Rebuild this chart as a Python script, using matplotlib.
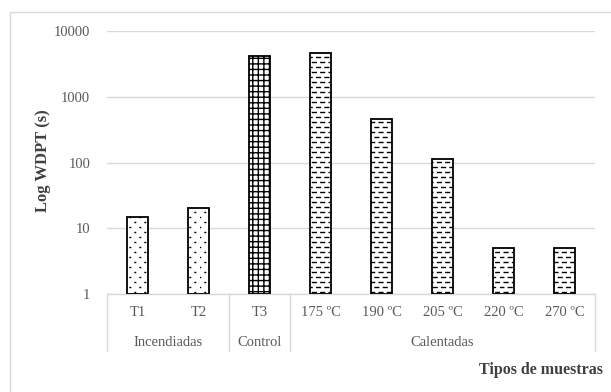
import warnings
import numpy as np
import matplotlib
matplotlib.use("Agg")
import matplotlib.pyplot as plt
import matplotlib.hatch as mhatch
from matplotlib.path import Path
from matplotlib.patches import Rectangle
from matplotlib.transforms import blended_transform_factory

warnings.filterwarnings("ignore")

# ---- data ----
categories = ["T1", "T2", "T3", "175 ºC", "190 ºC", "205 ºC", "220 ºC", "270 ºC"]
groups = ["Incendiadas", "Control", "Calentadas"]
group_sizes = [2, 1, 5]
wdpt = [15, 20, 4200, 4600, 460, 115, 5, 5]
y_ticks = [1, 10, 100, 1000, 10000]
y_tick_labels = ["1", "10", "100", "1000", "10000"]


class StaggeredHatch(mhatch.HatchPatternBase):
    """Rows of short horizontal strokes, every other row shifted half a step."""
    char = "="
    rows_per_unit = 20
    cols_per_unit = 12
    stroke_frac = 0.45

    def __init__(self, hatch, density):
        active = hatch.count(self.char) > 0
        self.num_vertices = (self.rows_per_unit * self.cols_per_unit * 2
                             if active else 0)

    def set_vertices_and_codes(self, vertices, codes):
        r, c = self.rows_per_unit, self.cols_per_unit
        k = 0
        for i in range(r):
            y = (i + 0.5) / r
            off = 0.5 * (i % 2)
            for j in range(c):
                x0 = (j + off) / c
                vertices[k] = (x0, y)
                vertices[k + 1] = (x0 + self.stroke_frac / c, y)
                codes[k] = Path.MOVETO
                codes[k + 1] = Path.LINETO
                k += 2


class DashRowsHatch(StaggeredHatch):
    char = "="


class FineDotsHatch(StaggeredHatch):
    char = ":"
    rows_per_unit = 20
    cols_per_unit = 10
    stroke_frac = 0.06


mhatch._hatch_types.extend([DashRowsHatch, FineDotsHatch])

plt.rcParams["font.family"] = ["Liberation Serif", "DejaVu Serif"]
plt.rcParams["hatch.linewidth"] = 1.0

W, H = 611, 392
fig = plt.figure(figsize=(W / 100, H / 100), dpi=100)

# outer chart frame
fig.patches.append(Rectangle((10 / W, -0.05), 1.2, 1 - 12 / H + 0.05,
                             transform=fig.transFigure, fill=False,
                             edgecolor="#d9d9d9", linewidth=1.0, zorder=0))

ax = fig.add_axes([107 / W, 1 - 294 / H, (595 - 107) / W, (294 - 31) / H])

hatches = [":", ":", "+++", "=", "=", "=", "=", "="]
x = np.arange(len(categories))
base = 1
for xi, val, h in zip(x, wdpt, hatches):
    ax.bar(xi, val - base, width=0.33, bottom=base, color="white",
           edgecolor="black", linewidth=1.3, hatch=h, zorder=3)

ax.set_yscale("log")
ax.set_ylim(1, 10000)
ax.set_xlim(-0.5, len(categories) - 0.5)
ax.set_yticks(y_ticks)
ax.set_yticklabels(y_tick_labels)
ax.yaxis.set_minor_locator(matplotlib.ticker.NullLocator())
ax.tick_params(axis="y", length=0, pad=12, labelsize=10.5, labelcolor="#595959")
ax.set_xticks([])
ax.grid(axis="y", color="#d9d9d9", linewidth=1.0, zorder=0)
for s in ["top", "right", "left"]:
    ax.spines[s].set_visible(False)
ax.spines["bottom"].set_color("#d9d9d9")
ax.spines["bottom"].set_linewidth(1.0)

# two-level category axis
trans = blended_transform_factory(ax.transData, ax.transAxes)
for xi, lab in zip(x, categories):
    ax.text(xi, -0.072, lab, transform=trans, ha="center", va="center",
            fontsize=10.5, color="#595959")

bounds = np.concatenate([[0], np.cumsum(group_sizes)]) - 0.5
for b in bounds:
    ax.plot([b, b], [0, -0.217], transform=trans, color="#d9d9d9",
            linewidth=1.0, clip_on=False)
for g, lo, hi in zip(groups, bounds[:-1], bounds[1:]):
    ax.text((lo + hi) / 2, -0.183, g, transform=trans, ha="center",
            va="center", fontsize=10.5, color="#595959")

fig.text(43 / W, 1 - 161 / H, "Log WDPT (s)", rotation=90, ha="center",
         va="center", fontsize=12, fontweight="bold", color="#404040")
fig.text(603 / W, 1 - 370 / H, "Tipos de muestras", ha="right", va="center",
         fontsize=11.5, fontweight="bold", color="#404040")

fig.savefig("out.png", dpi=100)
